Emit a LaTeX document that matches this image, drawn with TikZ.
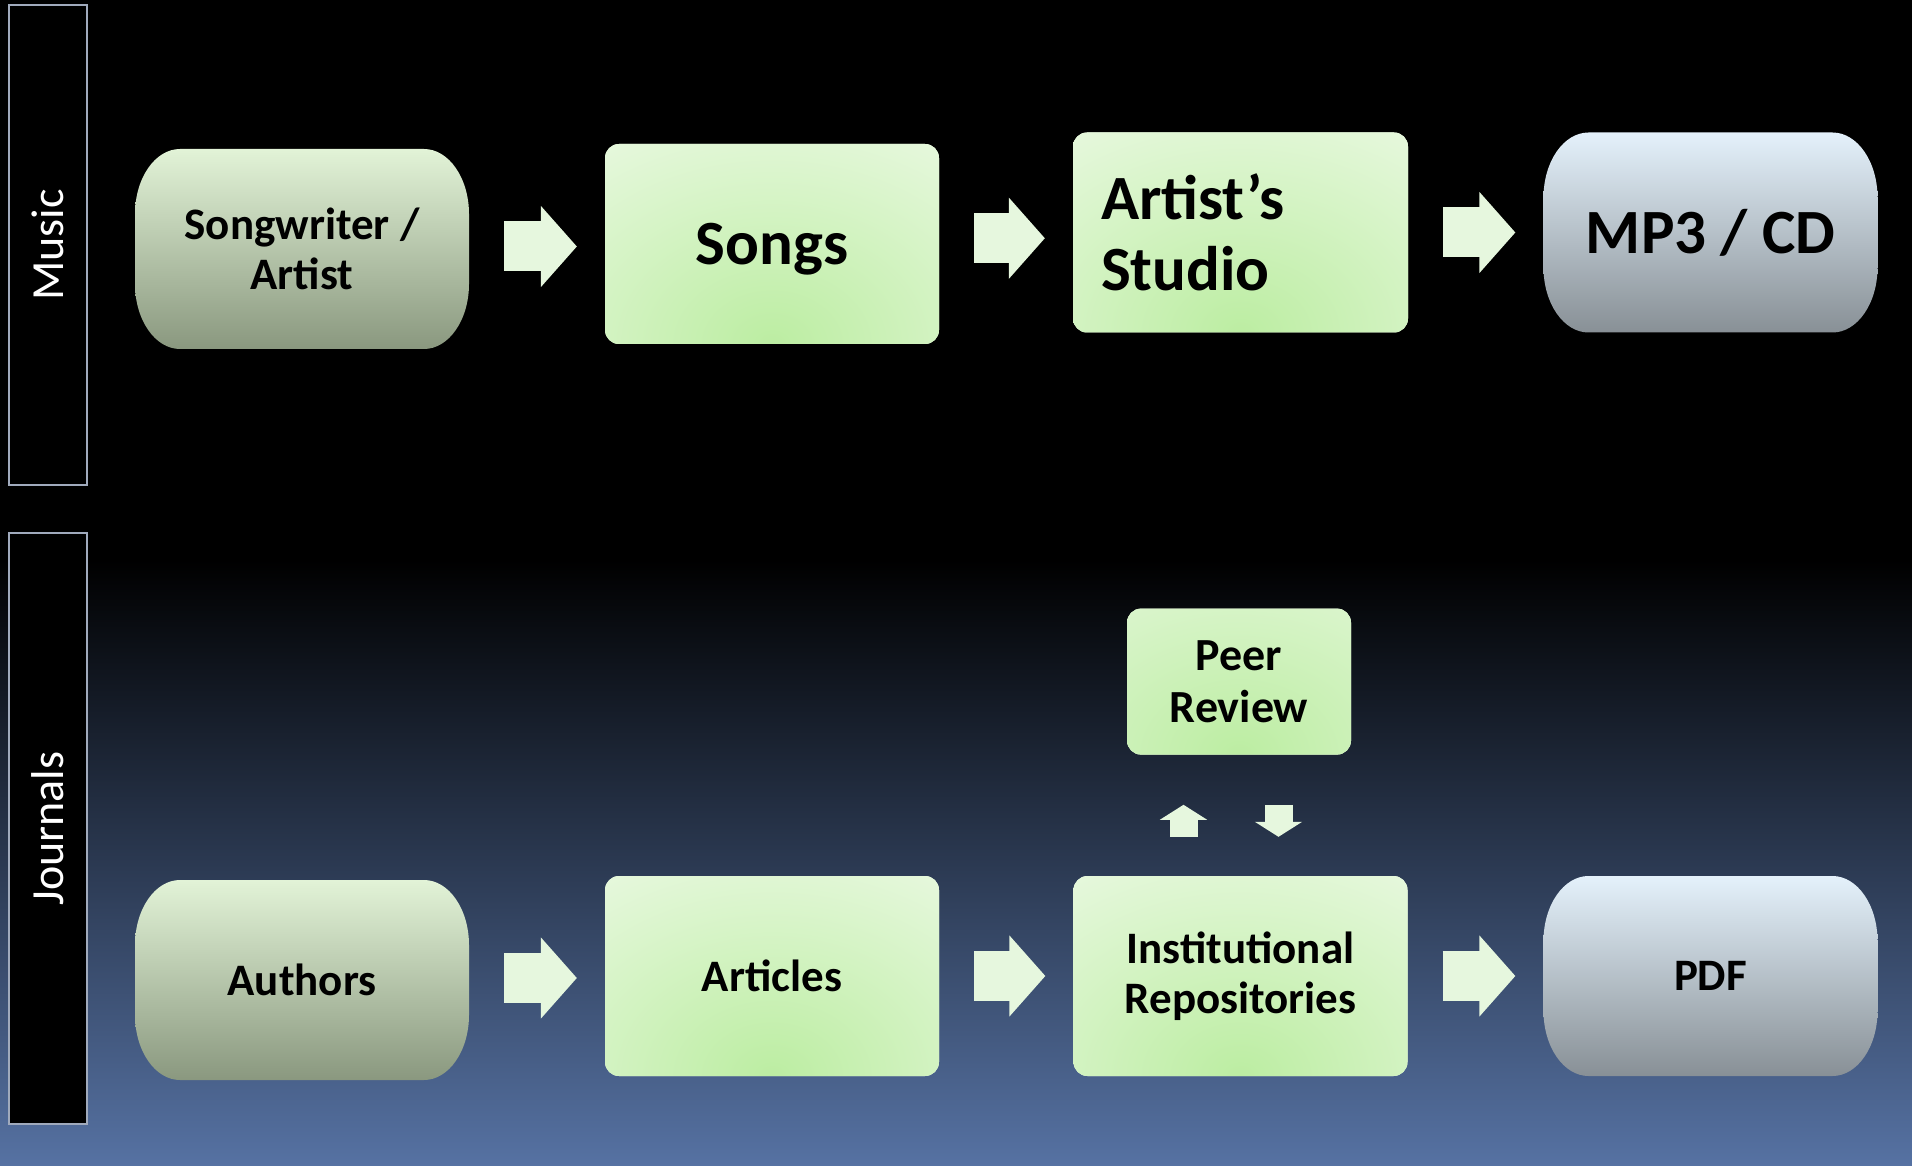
\documentclass[tikz,border=0pt]{standalone}
\usepackage{fontspec}
\setmainfont{Carlito}
\usetikzlibrary{positioning,arrows.meta,calc}

\definecolor{boxedge}{RGB}{234,249,226}
\definecolor{boxglow}{RGB}{188,237,162}
\definecolor{termtop}{RGB}{226,243,215}
\definecolor{termbot}{RGB}{138,152,127}
\definecolor{disptop}{RGB}{228,241,251}
\definecolor{dispbot}{RGB}{136,144,150}
\definecolor{arrowfill}{RGB}{230,247,222}
\definecolor{laneline}{RGB}{160,170,188}
\definecolor{bgblue}{RGB}{86,114,163}

\begin{document}
\begin{tikzpicture}[
    x=1pt, y=1pt,
    lanebox/.style={rectangle, draw=laneline, line width=2pt, fill=black, text=white, rotate=90,
        minimum height=78pt, font=\fontsize{46}{50}\selectfont},
    procbox/.style={rectangle, rounded corners=14pt, minimum width=334pt, minimum height=200pt,
        align=center, fill=boxedge, font=\fontsize{45}{50}\selectfont\bfseries,
        path picture={\shade[inner color=boxglow, outer color=boxedge]
            (path picture bounding box.south) ellipse[x radius=340pt, y radius=260pt];}},
    bigtext/.style={font=\fontsize{63}{71}\selectfont\bfseries},
    roundend/.style 2 args={rectangle, minimum width=334pt, minimum height=200pt,
        align=center, font=\fontsize{45}{50}\selectfont\bfseries,
        path picture={\shade[top color=#1, bottom color=#2]
            ([xshift=45pt]path picture bounding box.north west)
            -- ([xshift=-45pt]path picture bounding box.north east)
            arc[start angle=90, end angle=0, x radius=45pt, y radius=65pt]
            -- ([yshift=65pt]path picture bounding box.south east)
            arc[start angle=0, end angle=-90, x radius=45pt, y radius=65pt]
            -- ([xshift=45pt]path picture bounding box.south west)
            arc[start angle=270, end angle=180, x radius=45pt, y radius=65pt]
            -- ([yshift=-65pt]path picture bounding box.north west)
            arc[start angle=180, end angle=90, x radius=45pt, y radius=65pt] -- cycle;}},
    termbox/.style={roundend={termtop}{termbot}},
    dispbox/.style={roundend={disptop}{dispbot}},
    flowarrow/.style={draw=arrowfill, line width=50pt,
        -{Triangle[width=81pt, length=36pt, line width=2pt]}, shorten <=35pt, shorten >=28pt},
    reviewarrow/.style={draw=arrowfill, line width=28pt,
        -{Triangle[width=47pt, length=15pt, line width=2pt]}}
]

% Background
\useasboundingbox (0,0) rectangle (1912,-1166);
\fill[black] (0,0) rectangle (1912,-1166);
\shade[top color=black, bottom color=bgblue] (0,-560) rectangle (1912,-1166);

% Lanes
\node[lanebox, minimum width=480pt] (music) at (47.5,-245) {Music};
\node[lanebox, minimum width=591pt] (journals) at (47.5,-828.5) {Journals};

% Music row
\node[termbox] (writer) at (302,-249) {Songwriter /\\Artist};
\node[procbox, bigtext, text depth=0pt] (songs) at (772,-244) {Songs};
\node[procbox, bigtext, align=left, text width=279pt, inner xsep=28pt] (studio) at (1240.5,-232.5) {Artist's\\Studio};
\node[dispbox, bigtext] (media) at (1710.5,-232.5) {MP3 / CD};

% Journals row
\node[termbox] (authors) at (302,-980) {Authors};
\node[procbox] (articles) at (772,-976) {Articles};
\node[procbox] (repos) at (1240.5,-976) {Institutional\\Repositories};
\node[dispbox] (pdf) at (1710.5,-976) {PDF};
\node[procbox, minimum width=224pt, minimum height=146pt, font=\fontsize{46}{52}\selectfont\bfseries,
    above=121pt of repos, xshift=-1.5pt] (peer) {Peer\\Review};

% Flow arrows
\foreach \from/\to in {writer/songs, songs/studio, studio/media, authors/articles, articles/repos, repos/pdf} {
  \coordinate (gap) at ($(\from.east)!0.5!(\to.west)$);
  \draw[flowarrow] (\from.east |- gap) -- (\to.west |- gap);
}

% Review loop
\draw[reviewarrow, shorten <=39pt, shorten >=50pt] ([xshift=-57pt]repos.north) -- ([xshift=-57pt]repos.north |- peer.south);
\draw[reviewarrow, shorten <=50pt, shorten >=39pt] ([xshift=38pt]repos.north |- peer.south) -- ([xshift=38pt]repos.north);

\end{tikzpicture}
\end{document}
